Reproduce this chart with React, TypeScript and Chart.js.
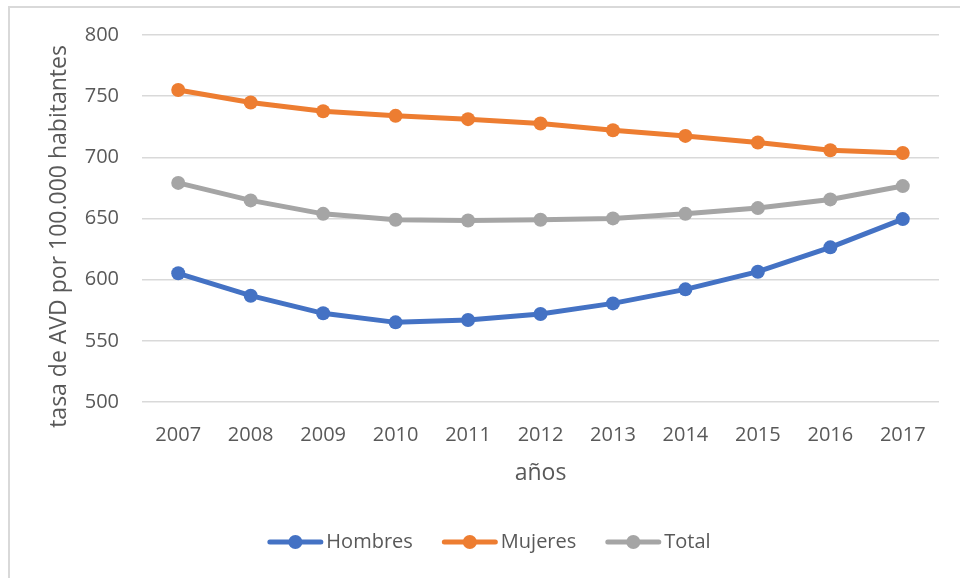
import React, { useEffect, useRef } from "react";
import { Chart, registerables } from "chart.js";

Chart.register(...registerables);

// Tasa de AVD por 100.000 habitantes, 2007-2017
const years = ["2007", "2008", "2009", "2010", "2011", "2012", "2013", "2014", "2015", "2016", "2017"];
const hombres = [605.2, 586.9, 572.5, 565.1, 567.0, 571.9, 580.6, 592.1, 606.5, 626.4, 649.5];
const mujeres = [755.1, 744.8, 737.7, 733.9, 731.2, 727.6, 722.2, 717.5, 712.1, 705.8, 703.6];
const total = [679.1, 664.8, 653.8, 649.0, 648.4, 649.0, 650.1, 653.8, 658.5, 665.6, 676.5];

const seriesNames = ["Hombres", "Mujeres", "Total"];
const seriesColors = ["#4472C4", "#ED7D31", "#A5A5A5"];

const yTitle = "tasa de AVD por 100.000 habitantes";
const xTitle = "años";

const FONT = '"Open Sans", "Noto Sans", sans-serif';
const TEXT = "#595959";

// Rotated y-axis title, drawn beside the tick labels
const yTitlePlugin = {
  id: "yTitle",
  afterDraw(chart: any) {
    const { ctx, chartArea } = chart;
    ctx.save();
    ctx.font = `23px ${FONT}`;
    ctx.fillStyle = TEXT;
    ctx.textAlign = "center";
    ctx.textBaseline = "middle";
    ctx.translate(59.5, (chartArea.top + chartArea.bottom) / 2 + 18);
    ctx.rotate(-Math.PI / 2);
    ctx.fillText(yTitle, 0, 0);
    ctx.restore();
  },
};

// Legend with a line-and-marker swatch per series
const lineLegendPlugin = {
  id: "lineLegend",
  afterDraw(chart: any) {
    const { ctx } = chart;
    const sw = 56;
    const gapText = 3;
    const gapItem = 29;
    const y = 542;
    ctx.save();
    ctx.font = `20px ${FONT}`;
    const items = chart.data.datasets.map((ds: any) => ({
      label: ds.label,
      color: ds.borderColor,
      w: ctx.measureText(ds.label).width,
    }));
    const totalW =
      items.reduce((s: number, it: any) => s + sw + gapText + it.w, 0) + gapItem * (items.length - 1);
    let x = chart.width / 2 + 9 - totalW / 2;
    for (const it of items) {
      ctx.strokeStyle = it.color;
      ctx.lineWidth = 5;
      ctx.lineCap = "round";
      ctx.beginPath();
      ctx.moveTo(x + 2.5, y);
      ctx.lineTo(x + sw - 2.5, y);
      ctx.stroke();
      ctx.fillStyle = it.color;
      ctx.beginPath();
      ctx.arc(x + sw / 2, y, 7, 0, Math.PI * 2);
      ctx.fill();
      ctx.fillStyle = TEXT;
      ctx.textAlign = "left";
      ctx.textBaseline = "middle";
      ctx.fillText(it.label, x + sw + gapText, y);
      x += sw + gapText + it.w + gapItem;
    }
    ctx.restore();
  },
};

export default function App() {
  const canvasRef = useRef<HTMLCanvasElement | null>(null);

  useEffect(() => {
    if (!canvasRef.current) return;
    const values = [hombres, mujeres, total];
    const chart = new Chart(canvasRef.current, {
      type: "line",
      data: {
        labels: years,
        datasets: values.map((data, i) => ({
          label: seriesNames[i],
          data,
          borderColor: seriesColors[i],
          backgroundColor: seriesColors[i],
          pointBackgroundColor: seriesColors[i],
          pointBorderColor: seriesColors[i],
          borderWidth: 5,
          pointRadius: 7,
          pointBorderWidth: 0,
          tension: 0,
          fill: false,
        })),
      },
      options: {
        animation: false,
        responsive: false,
        maintainAspectRatio: false,
        layout: { padding: { top: 35, right: 21, bottom: 0, left: 0 } },
        plugins: {
          legend: { display: false },
          tooltip: { enabled: false },
        },
        scales: {
          x: {
            offset: true,
            grid: { display: false, drawTicks: false },
            border: { display: false },
            ticks: { color: TEXT, font: { family: FONT, size: 20 }, padding: 21, maxRotation: 0 },
            title: {
              display: true,
              text: xTitle,
              color: TEXT,
              font: { family: FONT, size: 23 },
              padding: { top: 0, bottom: 91 },
            },
            afterFit: (s: any) => {
              s.height = 176;
            },
          },
          y: {
            min: 500,
            max: 800,
            ticks: { stepSize: 50, color: TEXT, font: { family: FONT, size: 20 }, padding: 23 },
            grid: { color: "#D9D9D9", lineWidth: 1.5, drawTicks: false },
            border: { display: false },
            afterFit: (s: any) => {
              s.width = 142;
            },
          },
        },
      },
      plugins: [yTitlePlugin, lineLegendPlugin],
    });
    return () => chart.destroy();
  }, []);

  return (
    <div
      style={{
        position: "fixed",
        left: 0,
        top: 0,
        width: 960,
        height: 578,
        overflow: "hidden",
        background: "#fff",
      }}
    >
      <div
        style={{
          position: "absolute",
          left: 8,
          top: 6,
          width: 1000,
          height: 700,
          border: "2px solid #D9D9D9",
          boxSizing: "border-box",
        }}
      />
      <canvas ref={canvasRef} width={960} height={578} style={{ position: "absolute", left: 0, top: 0 }} />
    </div>
  );
}
